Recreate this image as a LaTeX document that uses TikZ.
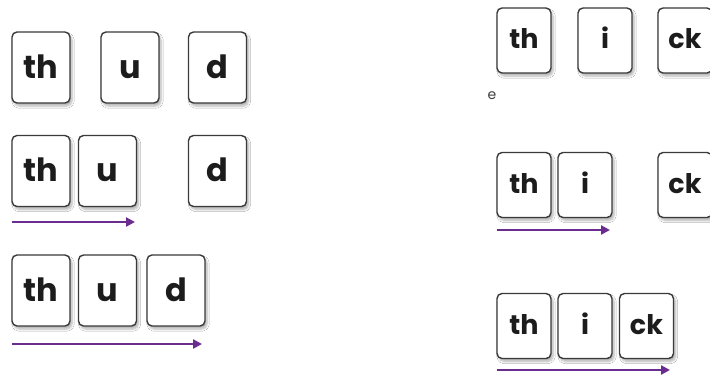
\documentclass[tikz,border=0pt]{standalone}
\usepackage{fontspec}
\setmainfont{Poppins}
\usetikzlibrary{shadows.blur,arrows.meta}
\definecolor{cardline}{HTML}{3A3A3A}
\definecolor{ink}{HTML}{1C1C1C}
\definecolor{blendarrow}{HTML}{6A2C8E}
\tikzset{
  card/.style={draw=cardline, line width=1.4pt, rounded corners=5pt, fill=white,
    text=ink, font=\bfseries\fontsize{32}{32}\selectfont,
    minimum width=58pt, minimum height=71pt, inner sep=0pt,
    text height=24pt, text depth=3pt,
    blur shadow={shadow xshift=2pt, shadow yshift=-3pt, shadow blur steps=6, shadow opacity=30}},
  smallcard/.style={card, minimum width=54pt, minimum height=65pt,
    font=\bfseries\fontsize{27}{27}\selectfont, text height=19pt, text depth=3pt},
  blend/.style={draw=blendarrow, line width=2.6pt, -{Triangle[length=9pt,width=9pt]}},
}
\begin{document}
\begin{tikzpicture}[x=1pt,y=-1pt]
\useasboundingbox (0,0) rectangle (710,376);
\fill[white] (0,0) rectangle (710,376);
\begin{scope}
\clip (0,0) rectangle (710,376);
% thud: separate sounds
\node[card] (a1) at (41,67.5) {th};
\node[card] (a2) at (130,67.5) {u};
\node[card] (a3) at (217.5,67.5) {d};
% thud: first two blended
\node[card] (b1) at (41,171) {th};
\node[card] (b2) at (107.5,171) {u};
\node[card] (b3) at (217.5,171) {d};
\coordinate (b0) at (12,222);
\coordinate (bE) at (135,222);
\draw[blend] (b0) -- (bE);
% thud: whole word
\node[card] (c1) at (41,290.5) {th};
\node[card] (c2) at (107.5,290.5) {u};
\node[card] (c3) at (176,290.5) {d};
\coordinate (c0) at (12,344);
\coordinate (cE) at (202,344);
\draw[blend] (c0) -- (cE);
% thick: separate sounds
\node[smallcard] (d1) at (524,40.5) {th};
\node[smallcard] (d2) at (605,40.5) {i};
\node[smallcard] (d3) at (685,40.5) {ck};
\node[text=ink!85, font=\fontsize{14}{14}\selectfont] (dn) at (492,96) {e};
% thick: first two blended
\node[smallcard] (e1) at (524,185) {th};
\node[smallcard] (e2) at (585,185) {i};
\node[smallcard] (e3) at (685,185) {ck};
\coordinate (e0) at (497,230);
\coordinate (eE) at (610,230);
\draw[blend] (e0) -- (eE);
% thick: whole word
\node[smallcard] (f1) at (524,326) {th};
\node[smallcard] (f2) at (585,326) {i};
\node[smallcard] (f3) at (646.5,326) {ck};
\coordinate (f0) at (497,370);
\coordinate (fE) at (670,370);
\draw[blend] (f0) -- (fE);
\end{scope}
\end{tikzpicture}
\end{document}
